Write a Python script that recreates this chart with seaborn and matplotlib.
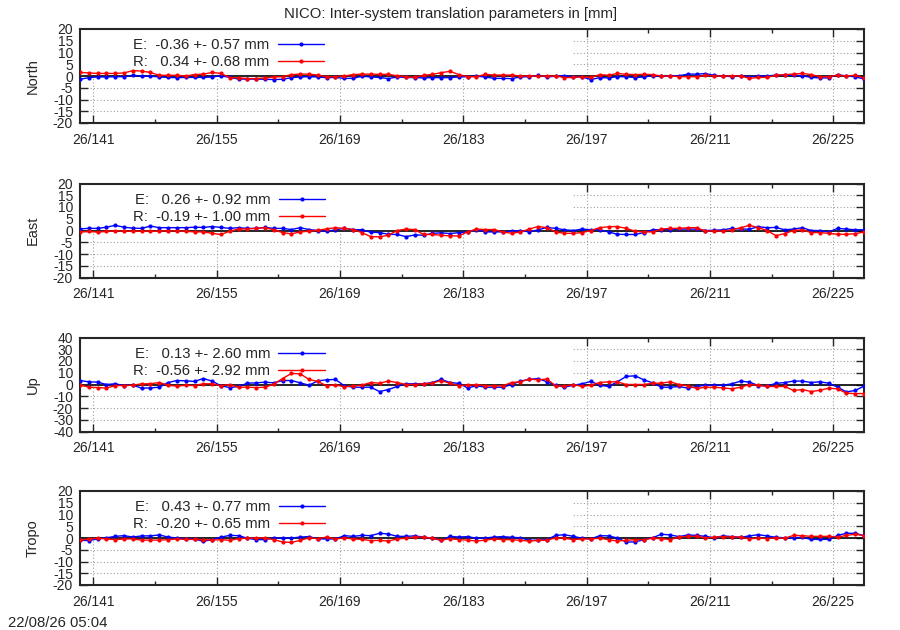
import numpy as np
import pandas as pd
import matplotlib
matplotlib.use("Agg")
import matplotlib.pyplot as plt
import seaborn as sns
from matplotlib.patches import Rectangle

# day of year 2026, one solution per day (noon epochs)
doy = np.arange(139.5, 229.5, 1.0)
tick_days = [141, 155, 169, 183, 197, 211, 225]
tick_labels = ["26/141", "26/155", "26/169", "26/183", "26/197", "26/211", "26/225"]
minor_days = [148, 162, 176, 190, 204, 218]

# values in mm
north_e = [-1.4, -0.7, -0.4, -0.4, -0.3, -0.3, 0.3, -0.1, -0.1, -0.4,
           -0.6, -0.7, -0.6, -0.6, -0.6, -0.4, 0.1, -0.6, -1.3, -1.3,
           -1.3, -1.4, -1.5, -1.4, -0.7, -0.4, -0.3, -0.4, -0.7, -0.6,
           -1.0, -1.0, -0.1, -0.4, -0.6, -1.1, -0.4, -0.6, -0.7, -0.8,
           -0.7, -0.7, -0.7, -0.4, -0.3, -0.1, -0.4, -1.0, -1.0, -1.1,
           -0.4, -0.3, 0.3, -0.4, -0.1, 0.1, -0.3, -0.4, -1.5, -0.7,
           -0.8, -0.3, -0.3, -0.7, -0.4, 0.1, -0.1, 0.0, 0.1, 0.8,
           0.8, 1.0, 0.3, 0.0, -0.3, 0.0, -0.3, -0.1, 0.0, 0.4,
           0.3, 0.3, 0.1, -0.6, -0.8, -0.8, 0.6, 0.0, -0.3, -1.3]
north_r = [1.5, 1.3, 1.1, 1.1, 1.1, 1.3, 2.3, 2.1, 1.5, 0.3,
           0.3, 0.3, 0.0, 0.6, 0.8, 1.5, 1.1, -0.7, -0.8, -1.1,
           -1.1, -0.8, -0.4, -0.3, 0.6, 0.8, 0.8, 0.4, -0.3, -0.3,
           0.0, 0.6, 0.8, 0.8, 0.7, 0.7, 0.1, -0.3, -0.6, 0.3,
           0.7, 1.4, 2.0, 0.6, -0.3, -0.3, 0.7, 0.4, 0.4, 0.4,
           0.0, 0.0, 0.0, 0.0, 0.0, -0.7, -0.6, -0.3, -0.6, 0.6,
           0.3, 1.1, 0.7, 0.6, 0.7, 0.6, 0.0, 0.0, -0.3, -0.3,
           -0.3, 0.3, 0.0, 0.0, 0.0, 0.0, -1.0, -0.6, -0.6, 0.3,
           0.6, 0.8, 1.1, 0.6, -0.3, -0.3, 0.3, 0.0, 0.3, -0.8]
east_e = [0.7, 0.9, 0.9, 1.4, 2.2, 1.4, 1.0, 0.9, 1.9, 1.2,
          1.2, 1.2, 1.2, 1.4, 1.3, 1.7, 1.3, 0.9, 1.2, 0.9,
          0.9, 1.3, 0.9, 0.9, 0.4, 1.2, 0.4, 0.0, -0.3, 0.3,
          0.9, 0.4, 0.3, -0.7, -0.9, -1.6, -1.7, -2.6, -1.9, -2.0,
          -1.2, -1.0, -1.3, -0.9, -0.6, 0.4, -0.6, -0.6, -0.6, -0.3,
          0.0, -0.6, 0.3, 1.3, 0.9, 0.3, 0.0, 0.6, 0.3, 0.3,
          -0.6, -1.6, -1.7, -1.7, -0.9, 0.3, 0.4, 0.4, 0.6, 0.6,
          0.6, 0.0, 0.1, 0.3, 0.9, 0.6, 0.6, 1.6, 1.2, 1.3,
          0.3, 0.6, 1.2, 0.0, 0.0, -0.6, 0.9, 0.6, 0.3, 0.3]
east_r = [-0.6, -0.4, -0.7, -0.4, -0.1, -0.3, -0.3, -0.3, -0.3, -0.3,
          -0.1, -0.1, -0.3, -0.6, -0.6, -1.2, -1.7, -0.3, 0.6, 0.7,
          0.9, 1.2, 0.3, -0.9, -1.4, -0.6, -0.3, 0.1, 0.7, 1.2,
          0.9, 0.4, -0.9, -2.6, -2.7, -2.0, 0.0, 0.6, 0.4, -1.7,
          -1.7, -2.0, -2.3, -2.3, -0.6, 0.6, 0.4, 0.4, -0.6, -1.2,
          -0.6, 0.6, 1.7, 1.2, -0.6, -1.2, -1.2, -0.9, 0.0, 1.2,
          1.6, 1.7, 0.9, -0.3, -0.6, -0.6, 0.6, 0.9, 0.9, 1.2,
          1.2, -0.3, -0.1, -0.3, 0.3, 1.2, 2.2, 1.2, 0.0, -2.2,
          -1.3, 0.0, 0.3, -0.9, -0.9, -1.2, -1.6, -1.6, -1.4, -0.6]
up_e = [3.4, 2.3, 2.0, 0.0, 0.6, -0.9, -0.6, -3.1, -2.9, -2.3,
        1.7, 3.4, 3.1, 2.6, 5.1, 2.9, -1.1, -2.6, -1.7, 1.1,
        1.4, 2.0, 1.4, 3.4, 3.4, 1.4, -0.6, 3.1, 4.0, 4.3,
        -1.1, -2.3, -2.3, -2.3, -6.0, -4.3, -1.7, 0.6, 0.6, 0.6,
        1.7, 4.3, 1.7, 0.9, -2.9, -1.1, -2.3, -2.3, -2.3, 0.0,
        2.9, 4.3, 5.1, 2.3, -0.6, -2.3, -0.6, 0.6, 2.6, -0.6,
        -1.7, 2.3, 6.9, 7.4, 4.0, 1.4, -2.3, -2.3, -1.7, -3.1,
        -1.7, -0.6, -0.6, -0.6, 0.6, 2.9, 2.0, -0.9, -1.1, 0.9,
        1.7, 2.9, 2.9, 1.7, 2.3, 1.1, -2.3, -6.3, -5.1, -1.4]
up_r = [-0.3, -2.3, -2.6, -3.1, -0.9, -0.9, -0.6, 0.6, 0.6, 1.7,
        -0.6, -1.4, -0.6, -0.9, 0.6, 0.6, -1.1, 0.0, -2.3, -2.3,
        -2.6, -2.3, 0.3, 5.1, 9.4, 9.1, 4.3, 2.6, -1.1, -0.3,
        -2.0, -1.1, -0.6, 1.7, 1.1, 2.9, 1.7, 0.0, 0.0, 0.6,
        1.1, 3.4, 0.9, -0.9, -0.6, 0.0, -1.1, -1.1, -1.1, 1.7,
        2.3, 4.6, 4.0, 4.6, -1.1, -1.4, 0.0, -1.7, -0.6, 1.7,
        2.3, 2.3, 0.0, 0.0, 0.0, 1.1, 1.1, 2.3, 0.0, -1.1,
        -3.4, -2.3, -2.3, -2.9, -3.7, -2.3, 0.0, -0.6, -1.7, -1.7,
        -1.7, -5.1, -4.3, -6.0, -4.9, -3.1, -3.7, -7.4, -7.7, -7.7]
tropo_e = [-1.0, -1.1, -0.4, 0.1, 0.7, 1.0, 0.4, 0.9, 0.9, 1.3,
           0.4, 0.0, -0.4, -0.4, -1.4, -0.7, 0.4, 1.1, 1.0, -0.1,
           -0.7, -0.7, 0.0, 0.0, 0.0, 0.4, 0.6, -0.4, -0.4, -0.4,
           1.0, 0.7, 1.1, 1.0, 2.0, 1.7, 0.7, 0.7, 0.9, 0.4,
           -0.1, -1.0, 0.7, 0.4, 0.6, -0.1, 0.0, 0.4, 0.6, 0.3,
           0.1, -1.0, -0.9, -0.7, 1.1, 1.4, 0.7, -0.1, -0.4, 1.0,
           0.9, 0.0, -1.7, -1.7, -0.7, 0.1, 1.6, 1.3, 0.6, 1.3,
           1.1, 0.7, 0.1, 0.9, 0.6, 0.3, 0.9, 1.4, 0.9, 0.3,
           0.1, 0.1, 0.3, -0.6, -0.6, -0.6, 1.1, 2.0, 2.0, 1.0]
tropo_r = [-1.0, -0.4, -0.1, -0.4, -0.7, -0.4, -0.4, -0.9, -0.9, -0.9,
           -0.7, -0.4, -0.6, -0.6, -0.7, -0.9, -0.7, -1.0, -0.3, -0.1,
           0.0, 0.0, -0.7, -1.7, -1.9, -1.0, 0.1, -0.3, 0.4, -0.4,
           0.0, -0.4, -0.6, -1.1, -1.0, -1.3, -0.4, -0.1, 0.4, 0.4,
           -0.1, -0.9, -0.3, -0.7, -0.9, -1.3, -0.9, -0.4, -0.7, -0.7,
           -1.0, -1.3, -1.0, -1.0, 0.1, -0.1, -0.7, -0.4, -0.4, -0.1,
           -0.7, -1.3, -1.0, -0.7, -0.7, -0.1, -0.3, -0.7, 0.4, 0.7,
           0.7, 0.1, 0.3, 0.6, 0.4, 0.4, -0.4, 0.0, -0.3, 0.1,
           -0.1, 1.1, 1.0, 0.7, 0.7, 0.7, 0.4, 1.1, 1.6, 1.0]

panel_names = ["North", "East", "Up", "Tropo"]
series_e = [north_e, east_e, up_e, tropo_e]
series_r = [north_r, east_r, up_r, tropo_r]
legend_e = ["E:  -0.36 +- 0.57 mm", "E:   0.26 +- 0.92 mm",
            "E:   0.13 +- 2.60 mm", "E:   0.43 +- 0.77 mm"]
legend_r = ["R:   0.34 +- 0.68 mm", "R:  -0.19 +- 1.00 mm",
            "R:  -0.56 +- 2.92 mm", "R:  -0.20 +- 0.65 mm"]
ylims = [20, 20, 40, 20]
ysteps = [5, 5, 10, 5]

sns.set_style("ticks")
plt.rcParams['font.family'] = ['Liberation Sans', 'DejaVu Sans']
plt.rcParams['axes.unicode_minus'] = False
plt.rcParams['font.size'] = 10

fig = plt.figure(figsize=(9, 6.3), dpi=100)
tops = [29, 183.5, 337.5, 491]   # pixel rows of each panel top
for k in range(4):
    ax = fig.add_axes([80 / 900, 1 - (tops[k] + 94) / 630, 784 / 900, 94 / 630])
    df = pd.DataFrame({"doy": doy, "E": series_e[k], "R": series_r[k]})

    # grid + opaque key box like gnuplot
    ax.set_axisbelow(True)
    ax.grid(True, which="major", color="#a0a0a0", linestyle=(0, (1, 2)), linewidth=0.8)
    ax.add_patch(Rectangle((0, 0.48), 0.629, 0.52, transform=ax.transAxes,
                           facecolor="white", edgecolor="none", zorder=0.8))
    ax.axhline(0, color="black", linewidth=1.2, zorder=1.5)

    sns.lineplot(data=df, x="doy", y="E", ax=ax, color="#0000ff", marker="o",
                 markersize=3, markeredgewidth=0, linewidth=1.0, label=legend_e[k], zorder=3)
    sns.lineplot(data=df, x="doy", y="R", ax=ax, color="#ff0000", marker="o",
                 markersize=3, markeredgewidth=0, linewidth=1.0, label=legend_r[k], zorder=3)

    ax.set_xlim(doy[0], doy[-1])
    lim = ylims[k]
    ax.set_ylim(-lim, lim)
    ax.set_yticks(np.arange(-lim, lim + 1, ysteps[k]))
    ax.set_xticks(tick_days)
    ax.set_xticklabels(tick_labels)
    ax.set_xticks(minor_days, minor=True)
    ax.tick_params(axis="both", which="major", direction="in", length=6, width=1,
                   top=True, right=True, labelsize=10, pad=5)
    ax.tick_params(axis="x", which="minor", direction="in", length=3, width=1,
                   top=True, bottom=True)
    ax.tick_params(axis="x", which="major", pad=7)
    ax.set_xlabel("")
    ax.set_ylabel(panel_names[k], fontsize=10.5)
    ax.yaxis.set_label_coords(-0.051, 0.5)
    for sp in ax.spines.values():
        sp.set_linewidth(1.5)

    ax.legend(loc="upper left", bbox_to_anchor=(0.068, 0.9), frameon=False,
              markerfirst=False, handlelength=3.1, handletextpad=0.55,
              labelspacing=0.2, borderpad=0, borderaxespad=0, fontsize=10.7)

fig.text(0.5, 1 - 14 / 630, "NICO: Inter-system translation parameters in [mm]",
         ha="center", va="center", fontsize=10.7)
fig.text(8 / 900, 1 - 623 / 630, "22/08/26 05:04", ha="left", va="center", fontsize=10.7)

fig.savefig("out.png", dpi=100)
